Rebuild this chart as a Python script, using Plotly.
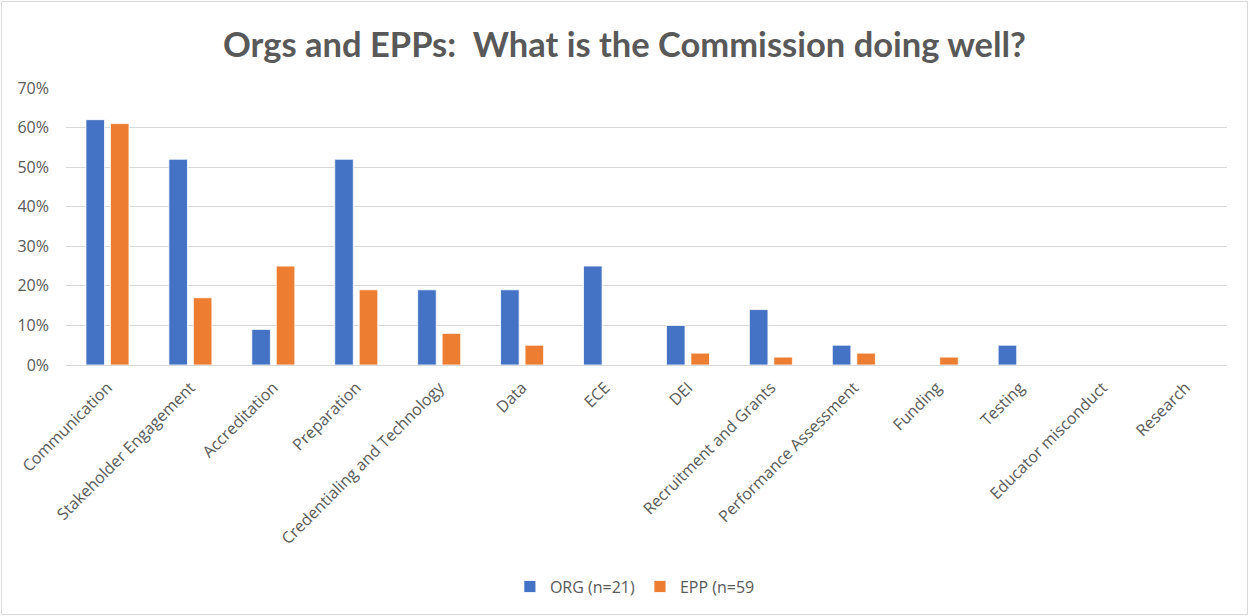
import plotly.graph_objects as go

categories = [
    "Communication", "Stakeholder Engagement", "Accreditation", "Preparation",
    "Credentialing and Technology", "Data", "ECE", "DEI", "Recruitment and Grants",
    "Performance Assessment", "Funding", "Testing", "Educator misconduct", "Research",
]
org_pct = [62, 52, 9, 52, 19, 19, 25, 10, 14, 5, 0, 5, 0, 0]
epp_pct = [61, 17, 25, 19, 8, 5, 0, 3, 2, 3, 2, 0, 0, 0]
series_names = ["ORG (n=21)", "EPP (n=59"]
y_ticks = [0, 10, 20, 30, 40, 50, 60, 70]
y_tick_labels = [f"{v}%" for v in y_ticks]

GREY = "#595959"
FONT = "Open Sans"

fig = go.Figure()
fig.add_trace(go.Bar(
    x=categories, y=org_pct, name=series_names[0],
    marker=dict(color="#4472C4", line=dict(color="#ffffff", width=0.8)),
))
fig.add_trace(go.Bar(
    x=categories, y=epp_pct, name=series_names[1],
    marker=dict(color="#ED7D31", line=dict(color="#ffffff", width=0.8)),
))

fig.update_layout(
    width=1249, height=616,
    margin=dict(l=66, r=22, t=88, b=251),
    paper_bgcolor="white", plot_bgcolor="white",
    barmode="group", bargap=0.41, bargroupgap=0.24,
    title=dict(
        text="<b>Orgs and EPPs:  What is the Commission doing well?</b>",
        x=0.5, xanchor="center", y=1 - 45 / 616, yanchor="middle",
        font=dict(family="Lato", size=34.5, color=GREY),
    ),
    font=dict(family=FONT, color=GREY, size=16),
    showlegend=True,
    legend=dict(
        orientation="h", x=0.49, xanchor="center", y=-0.80, yanchor="middle",
        font=dict(family=FONT, size=16, color=GREY), traceorder="normal",
        itemwidth=30,
    ),
    xaxis=dict(
        tickangle=-45, showgrid=False, showline=True, linecolor="#d9d9d9",
        linewidth=1, ticks="", tickfont=dict(family=FONT, size=16, color=GREY),
        ticklabelstandoff=6,
    ),
    yaxis=dict(
        range=[0, 70], tickvals=y_ticks, ticktext=y_tick_labels, showgrid=True,
        gridcolor="#d9d9d9", gridwidth=1, zeroline=False, showline=False,
        tickfont=dict(family=FONT, size=16, color=GREY), ticklen=0,
        ticklabelstandoff=16,
    ),
    shapes=[dict(
        type="rect", xref="paper", yref="paper",
        x0=(1.5 - 66) / 1161, x1=(1247.5 - 66) / 1161,
        y0=(365 - 614.5) / 277, y1=(365 - 1.5) / 277,
        line=dict(color="#d9d9d9", width=1), fillcolor="rgba(0,0,0,0)",
        layer="below",
    )],
)

fig.write_html("out.html")
